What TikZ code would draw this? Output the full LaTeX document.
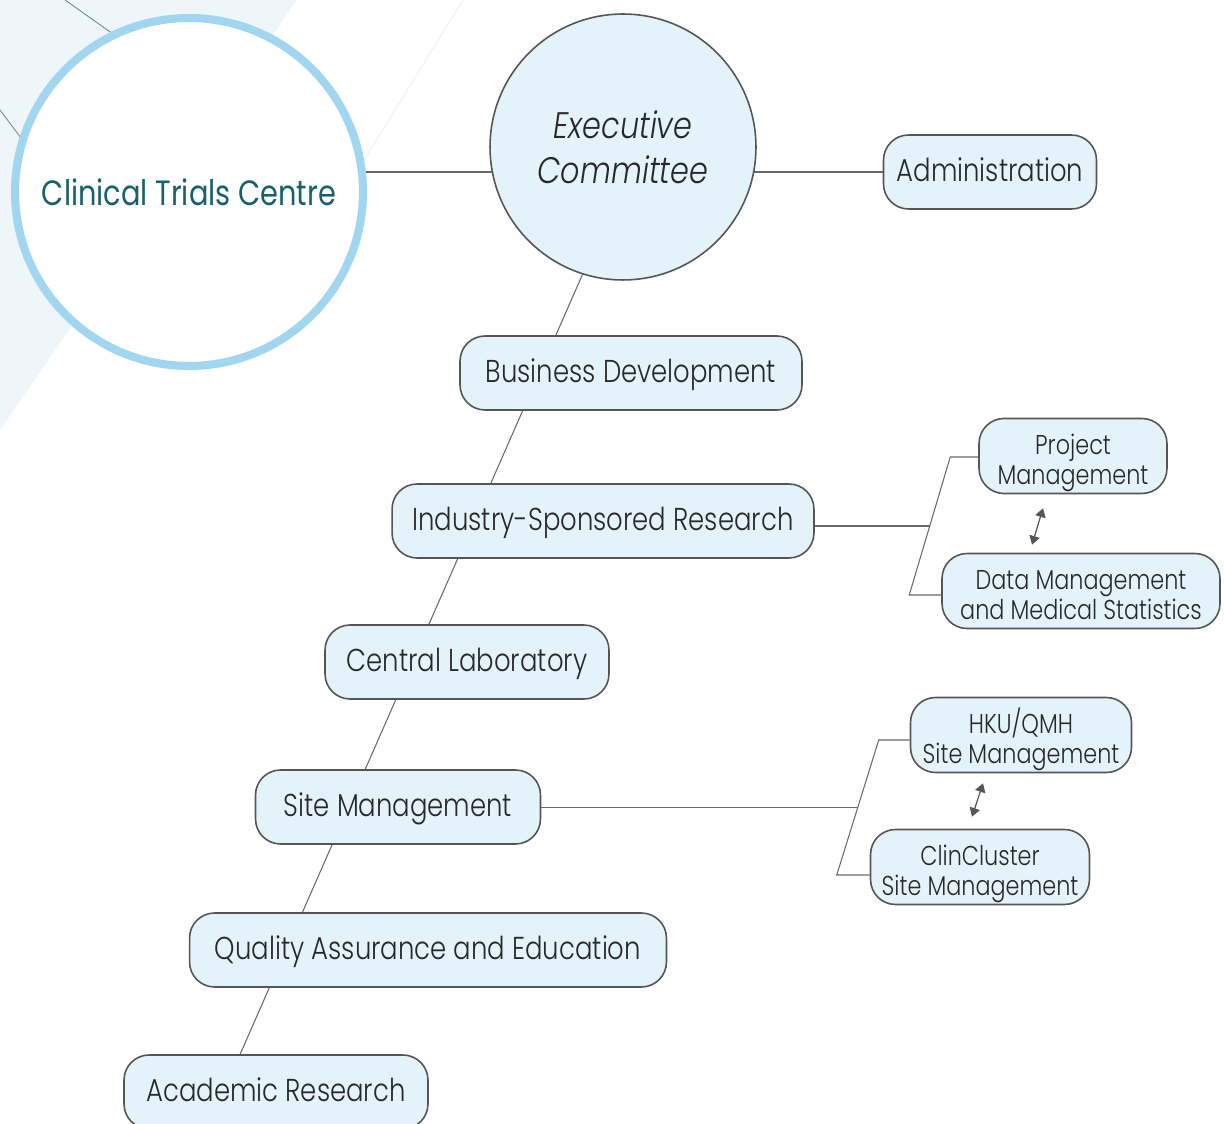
\documentclass[tikz,border=0pt]{standalone}
\usepackage{fontspec}
\setmainfont{Poppins}[UprightFont=* Light,ItalicFont=* Light Italic,FakeStretch=0.82]
\newfontfamily\ctcfont{Poppins}[FakeStretch=0.82]
\usepackage{tikz}
\usetikzlibrary{positioning}
\usetikzlibrary{arrows.meta}
\usetikzlibrary{shapes}
\usetikzlibrary{calc}
\pgfdeclarelayer{bg}
\pgfsetlayers{bg,main}
\definecolor{boxfill}{RGB}{228,242,250}
\definecolor{boxline}{RGB}{85,85,85}
\definecolor{linkgray}{RGB}{105,105,105}
\definecolor{ringblue}{RGB}{160,214,240}
\definecolor{ctcteal}{RGB}{22,96,112}
\definecolor{textgray}{RGB}{40,40,40}
\definecolor{bgwash}{RGB}{239,246,249}
\definecolor{bgstroke}{RGB}{112,132,146}
\definecolor{bgfaint}{RGB}{242,238,239}
\tikzset{
  basebox/.style={draw=boxline,line width=0.9pt,fill=boxfill,rounded corners=0.5cm,
    inner sep=0pt,text=textgray},
  unitbox/.style={basebox,minimum height=1.48cm,text height=1.4em,text depth=0.31em,
    font=\fontsize{18}{22}\selectfont},
  subbox/.style={basebox,minimum height=1.5cm,align=center,text height=36pt,text depth=3pt,
    font=\fontsize{15.5}{17.6}\selectfont},
  linkln/.style={draw=linkgray,line width=0.6pt},
  twoway/.style={draw=boxline,line width=0.7pt,{Triangle[length=5pt,width=6pt]}-{Triangle[length=5pt,width=6pt]}},
}

\begin{document}
\begin{tikzpicture}[x=0.02cm,y=-0.02cm]
            \useasboundingbox (0,0) rectangle (1224,1124);
            % the two circles
            \node at (189,192) [circle,draw=ringblue,line width=4.6pt,fill=white,minimum size=6.96cm,
                  inner sep=0pt,text=ctcteal,font=\ctcfont\fontsize{20}{25}\selectfont] (nctc) {Clinical Trials Centre};
            \node at (623,147) [circle,draw=boxline,line width=0.9pt,fill=boxfill,minimum size=5.32cm,
                  inner sep=0pt,align=center,text=textgray,font=\itshape\fontsize{21}{25.5}\selectfont] (nexec) {Executive\\Committee};
            % the units along the spine
            \node at (990,172)  [unitbox,minimum width=4.26cm] (nadmin)    {Administration};
            \node at (631,373)  [unitbox,minimum width=6.84cm] (nbusdev)   {Business Development};
            \node at (603,521)  [unitbox,minimum width=8.44cm] (nindres)   {Industry-Sponsored Research};
            \node at (467,662)  [unitbox,minimum width=5.68cm] (ncentlab)  {Central Laboratory};
            \node at (398,807)  [unitbox,minimum width=5.70cm] (nsitemgmt) {Site Management};
            \node at (428,950)  [unitbox,minimum width=9.54cm] (nqualedu)  {Quality Assurance and Education};
            \node at (276,1092) [unitbox,minimum width=6.08cm] (nacadres)  {Academic Research};
            % industry-sponsored pair
            \node at (1073,456) [subbox,minimum width=3.76cm] (nprojmgmt) {Project\\Management};
            \node at (1081,591) [subbox,minimum width=5.56cm] (ndatamgmt) {Data Management\\and Medical Statistics};
            % site management pair
            \node at (1021,735) [subbox,minimum width=4.42cm] (nhku)  {HKU/QMH\\Site Management};
            \node at (980,867)  [subbox,minimum width=4.38cm] (nclin) {ClinCluster\\Site Management};
            \begin{pgfonlayer}{bg}
            % background wash and strokes
            \fill[bgwash] (0,0) -- (297,0) -- (0,430) -- cycle;
            \draw[bgfaint,line width=0.5pt]  (463,0) -- (330,215);
            \draw[bgstroke,line width=0.5pt] (65,0)  -- (130,46);
            \draw[bgstroke,line width=0.5pt] (0,110) -- (30,150);
            % top line and spine
            \draw[linkln] (nctc.center |- nadmin.west) -- (nadmin.west);
            \coordinate (nspinetop) at (613,205);
            \coordinate (nspinebot) at (231,1075);
            \draw[linkln] (nspinetop) -- (nspinebot);
            \end{pgfonlayer}
            % bracket to the industry-sponsored pair
            \draw[linkln] ($(nprojmgmt.west)+(0,1)$) -- ++(-28,0) coordinate (nbrpa)
                 -- ($(ndatamgmt.west)+(-32,4)$) coordinate (nbrpb) -- ($(ndatamgmt.west)+(0,4)$);
            \coordinate (nbrpmid) at ($(nbrpa)!0.5!(nbrpb)$);
            \draw[linkln] (nindres.east |- nbrpmid) -- (nbrpmid);
            \draw[twoway] ($(nprojmgmt.south)+(-30,14)$) -- ($(ndatamgmt.north)+(-49,-8)$);
            % bracket to the site management pair
            \draw[linkln] ($(nhku.west)+(0,5)$) -- ++(-31,0) coordinate (nbrsa)
                 -- ($(nclin.west)+(-33,8)$) coordinate (nbrsb) -- ($(nclin.west)+(0,8)$);
            \coordinate (nbrsmid) at ($(nbrsa)!0.5!(nbrsb)$);
            \draw[linkln] (nsitemgmt.east |- nbrsmid) -- (nbrsmid);
            \draw[twoway] ($(nhku.south)+(-38,10)$) -- ($(nclin.north)+(-8,-12)$);
\end{tikzpicture}
\end{document}
